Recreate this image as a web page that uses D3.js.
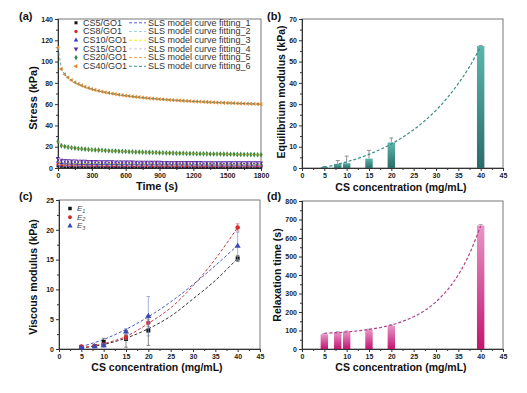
<!DOCTYPE html>
<html><head><meta charset="utf-8">
<script src="https://cdn.jsdelivr.net/npm/d3@7"></script>
<style>body{margin:0;background:#fff}svg{display:block;font-family:"Liberation Sans",Arial,sans-serif}</style>
</head><body><svg id="chart" width="527" height="393"></svg>
<script>
// ---------- (a) stress relaxation data ----------
const timeS=[0,30,60,90,120,150,180,210,240,270,300,330,360,390,420,450,480,510,540,570,600,630,660,690,720,750,780,810,840,870,900,930,960,990,1020,1050,1080,1110,1140,1170,1200,1230,1260,1290,1320,1350,1380,1410,1440,1470,1500,1530,1560,1590,1620,1650,1680,1710,1740,1770,1800];
const cs5=[1.9,1.5,1.4,1.35,1.3,1.28,1.26,1.24,1.22,1.2,1.19,1.18,1.17,1.16,1.15,1.14,1.13,1.12,1.11,1.1,1.1,1.09,1.09,1.08,1.08,1.07,1.07,1.06,1.06,1.05,1.05,1.04,1.04,1.03,1.03,1.02,1.02,1.01,1.01,1.0,1.0,1.0,0.99,0.99,0.98,0.98,0.97,0.97,0.96,0.96,0.95,0.95,0.94,0.94,0.93,0.93,0.92,0.92,0.91,0.91,0.9];
const cs8=[3.6,2.9,2.8,2.7,2.65,2.6,2.55,2.5,2.48,2.46,2.44,2.42,2.4,2.39,2.38,2.37,2.36,2.35,2.34,2.33,2.32,2.31,2.3,2.29,2.28,2.27,2.26,2.25,2.24,2.23,2.22,2.21,2.2,2.2,2.19,2.19,2.18,2.18,2.17,2.17,2.16,2.16,2.15,2.15,2.14,2.14,2.13,2.13,2.12,2.12,2.11,2.11,2.1,2.1,2.09,2.09,2.08,2.08,2.07,2.07,2.06];
const cs10=[6.0,4.9,4.7,4.6,4.5,4.4,4.3,4.25,4.2,4.15,4.1,4.05,4.0,3.98,3.96,3.94,3.92,3.9,3.88,3.86,3.84,3.82,3.8,3.79,3.78,3.77,3.76,3.75,3.74,3.73,3.72,3.71,3.7,3.69,3.68,3.67,3.66,3.65,3.64,3.63,3.62,3.61,3.6,3.59,3.58,3.57,3.56,3.55,3.54,3.53,3.52,3.51,3.5,3.49,3.48,3.47,3.46,3.45,3.44,3.42,3.4];
const cs15=[9.0,7.6,7.3,7.1,6.9,6.8,6.7,6.6,6.5,6.4,6.3,6.25,6.2,6.15,6.1,6.05,6.0,5.96,5.92,5.88,5.84,5.8,5.77,5.74,5.71,5.68,5.65,5.62,5.59,5.56,5.54,5.52,5.5,5.48,5.46,5.44,5.42,5.4,5.38,5.36,5.34,5.32,5.3,5.28,5.26,5.24,5.22,5.2,5.19,5.18,5.17,5.16,5.15,5.14,5.13,5.12,5.11,5.1,5.08,5.06,5.0];
const cs20=[25,21,20.2,19.6,19.1,18.7,18.3,18.0,17.7,17.4,17.2,17.0,16.8,16.6,16.4,16.2,16.0,15.9,15.7,15.6,15.5,15.3,15.2,15.1,15.0,14.9,14.8,14.7,14.6,14.5,14.4,14.3,14.2,14.1,14.0,13.9,13.9,13.8,13.7,13.6,13.6,13.5,13.4,13.4,13.3,13.2,13.2,13.1,13.1,13.0,13.0,12.9,12.9,12.8,12.8,12.7,12.7,12.6,12.6,12.5,12.5];
const cs40=[113,93,88,85,82.5,80.5,79,77.5,76.3,75.2,74.2,73.3,72.5,71.8,71.1,70.5,69.9,69.4,68.9,68.4,68.0,67.6,67.2,66.8,66.5,66.1,65.8,65.5,65.2,65.0,64.7,64.5,64.2,64.0,63.8,63.6,63.4,63.2,63.0,62.8,62.6,62.5,62.3,62.1,62.0,61.8,61.7,61.5,61.4,61.3,61.1,61.0,60.9,60.8,60.6,60.5,60.4,60.3,60.2,60.1,60.0];
const seriesNames=["CS5/GO1","CS8/GO1","CS10/GO1","CS15/GO1","CS20/GO1","CS40/GO1"];
const fitNames=["SLS model curve fitting_1","SLS model curve fitting_2","SLS model curve fitting_3","SLS model curve fitting_4","SLS model curve fitting_5","SLS model curve fitting_6"];
const timeTicks=[0,300,600,900,1200,1500,1800];
const stressTicks=[0,20,40,60,80,100,120,140];

// ---------- (b)(c)(d) concentration data ----------
const concs=[5,8,10,15,20,40];
const eqMod=[0.5,1.9,2.3,4.4,12.0,57.3];
const eqErr=[0.2,1.6,3.3,3.9,2.1,0.2];
const fitX=[5,7.5,10,12.5,15,17.5,20,22.5,25,27.5,30,32.5,35,37.5,40];
const eqFit=[0.3,1.5,2.9,4.5,6.4,8.7,11.3,14.4,18.0,22.2,27.1,32.9,39.7,47.6,57.0];
const E1=[0.3,0.5,1.2,1.7,3.1,15.2];
const E1err=[0.2,0.2,0.6,1.4,2.5,0.5];
const E2=[0.4,0.5,0.7,2.0,4.4,20.4];
const E2err=[0.2,0.2,0.3,0.4,0.6,0.6];
const E3=[0.2,0.4,0.6,2.9,5.5,17.3];
const E3err=[0.1,0.2,0.3,0.5,3.3,2.3];
const fitXc=[5,10,15,20,25,30,35,40];
const E1fit=[0.17,0.76,1.83,3.4,5.5,8.4,11.5,15.2];
const E2fit=[0.19,0.9,2.1,4.3,6.9,10.6,15.1,20.4];
const E3fit=[0.4,1.6,3.3,5.4,7.9,10.8,14.0,17.4];
const relax=[80,91,95,104,125,668];
const relaxErr=[3,2,2,3,3,4];
const relaxFit=[85,88,92,98,106,116,130,149,174,208,255,318,401,515,665];
const concTicks=[0,5,10,15,20,25,30,35,40,45];
const eqTicks=[0,10,20,30,40,50,60,70];
const viscTicks=[0,5,10,15,20,25];
const relaxTicks=[0,100,200,300,400,500,600,700,800];

const svg=d3.select("#chart");
const defs=svg.append("defs");
function grad(id,top,bot){const g=defs.append("linearGradient").attr("id",id).attr("x1",0).attr("y1",0).attr("x2",0).attr("y2",1);
 g.append("stop").attr("offset","0%").attr("stop-color",top);g.append("stop").attr("offset","100%").attr("stop-color",bot);}
grad("teal","#5cb6ae","#2c6c68");
grad("mag","#e696c6","#c21672");

const fmt=d3.format("d");
const concMinor=[2.5,7.5,12.5,17.5,22.5,27.5,32.5,37.5,42.5];
function frame(box,x,y,xt,xminor,yt,yminor){
  const g=svg.append("g");
  g.append("rect").attr("x",box.x0).attr("y",box.y0).attr("width",box.x1-box.x0).attr("height",box.y1-box.y0)
    .attr("fill","none").attr("stroke","#777").attr("stroke-width",1);
  g.append("g").attr("transform",`translate(0,${box.y1})`).call(d3.axisBottom(x).tickValues(xminor).tickSize(2).tickFormat(()=>""));
  g.append("g").attr("transform",`translate(${box.x0},0)`).call(d3.axisLeft(y).tickValues(yminor).tickSize(2).tickFormat(()=>""));
  g.append("g").attr("transform",`translate(0,${box.y1})`).call(d3.axisBottom(x).tickValues(xt).tickSize(3).tickPadding(2).tickFormat(fmt));
  g.append("g").attr("transform",`translate(${box.x0},0)`).call(d3.axisLeft(y).tickValues(yt).tickSize(3).tickPadding(2).tickFormat(fmt));
  g.selectAll(".domain").attr("stroke","#333");
  g.selectAll(".tick line").attr("stroke","#333");
  g.selectAll("text").attr("font-size",7).attr("font-weight","bold").attr("fill","#222").attr("font-family",'"Liberation Sans",Arial,sans-serif');
  return g;
}
function label(txt,x,y){svg.append("text").attr("x",x).attr("y",y).attr("font-size",11).attr("font-weight","bold").attr("fill","#111").text(txt);}
function xtitle(txt,x,y,fs){svg.append("text").attr("x",x).attr("y",y).attr("text-anchor","middle").attr("font-size",fs).attr("font-weight","bold").attr("fill","#111").text(txt);}
function ytitle(txt,x,y,fs){svg.append("text").attr("transform",`translate(${x},${y}) rotate(-90)`).attr("text-anchor","middle").attr("font-size",fs).attr("font-weight","bold").attr("fill","#111").text(txt);}

// ===== (a) =====
{
const box={x0:58,x1:261,y0:19,y1:168};
const x=d3.scaleLinear().domain([0,1800]).range([box.x0,box.x1]);
const y=d3.scaleLinear().domain([0,140]).range([box.y1,box.y0]);
frame(box,x,y,timeTicks,[150,450,750,1050,1350,1650],stressTicks,[10,30,50,70,90,110,130]);
const data=[cs5,cs8,cs10,cs15,cs20,cs40];
const mcol=["#111","#d42a2a","#3a3ac8","#5a2aa0","#2e8a3a","#e8862a"];
const fcol=["#5a5ad8","#9ad6e2","#eeee10","#d4c4e6","#f0a040","#3a968e"];
const syms=[d3.symbolSquare,d3.symbolCircle,d3.symbolTriangle,d3.symbolTriangle,d3.symbolDiamond,d3.symbolTriangle];
const rots=[0,0,0,180,0,-90];
const line=d3.line().x((d,i)=>x(timeS[i])).y(d=>y(d));
data.forEach((s,k)=>{
  svg.append("g").selectAll("path").data(s).join("path")
    .attr("d",d3.symbol().type(syms[k]).size(k===4?9:8))
    .attr("transform",(d,i)=>`translate(${x(timeS[i])},${y(d)}) rotate(${rots[k]})`)
    .attr("fill",mcol[k]);
});
data.forEach((s,k)=>{
  svg.append("path").attr("d",line(s)).attr("fill","none").attr("stroke",fcol[k]).attr("stroke-width",1).attr("stroke-dasharray","3,2").attr("opacity",0.8);
});
// legend
seriesNames.forEach((n,k)=>{
  const yy=25.5+k*8.7;
  svg.append("path").attr("d",d3.symbol().type(syms[k]).size(9)).attr("transform",`translate(76,${yy-2.7}) rotate(${rots[k]})`).attr("fill",mcol[k]);
  svg.append("text").attr("x",83).attr("y",yy).attr("font-size",9).attr("fill","#333").text(n);
  svg.append("line").attr("x1",129).attr("x2",146).attr("y1",yy-2.7).attr("y2",yy-2.7).attr("stroke",fcol[k]).attr("stroke-width",1).attr("stroke-dasharray","3,2");
  svg.append("text").attr("x",148).attr("y",yy).attr("font-size",9).attr("fill","#333").text(fitNames[k]);
});
label("(a)",19,20);
xtitle("Time (s)",157,190,11);
ytitle("Stress (kPa)",37,98,11);
}

// ===== (b) =====
{
const box={x0:302,x1:503,y0:19,y1:168};
const x=d3.scaleLinear().domain([0,45]).range([box.x0,box.x1]);
const y=d3.scaleLinear().domain([0,70]).range([box.y1,box.y0]);
frame(box,x,y,concTicks,concMinor,eqTicks,[5,15,25,35,45,55,65]);
const bw=7.4;
concs.forEach((c,i)=>{
  svg.append("line").attr("x1",x(c)).attr("x2",x(c)).attr("y1",y(eqMod[i])).attr("y2",y(eqMod[i]+eqErr[i])).attr("stroke","#777").attr("stroke-width",0.8);
  svg.append("line").attr("x1",x(c)-2).attr("x2",x(c)+2).attr("y1",y(eqMod[i]+eqErr[i])).attr("y2",y(eqMod[i]+eqErr[i])).attr("stroke","#777").attr("stroke-width",0.8);
  svg.append("rect").attr("x",x(c)-bw/2).attr("y",y(eqMod[i])).attr("width",bw).attr("height",y(0)-y(eqMod[i])).attr("fill","url(#teal)");
});
svg.append("path").attr("d",d3.line().curve(d3.curveCatmullRom).x((d,i)=>x(fitX[i])).y(d=>y(d))(eqFit))
  .attr("fill","none").attr("stroke","#3a8c86").attr("stroke-width",1.2).attr("stroke-dasharray","3,2");
label("(b)",267,20);
xtitle("CS concentration (mg/mL)",401,191,10.5);
ytitle("Equilibrium modulus (kPa)",285,92,10.5);
}

// ===== (c) =====
{
const box={x0:59,x1:260,y0:200,y1:349};
const x=d3.scaleLinear().domain([0,45]).range([box.x0,box.x1]);
const y=d3.scaleLinear().domain([0,25]).range([box.y1,box.y0]);
frame(box,x,y,concTicks,concMinor,viscTicks,[2.5,7.5,12.5,17.5,22.5]);
const sets=[[E1,E1err,E1fit,"#111","#333",d3.symbolSquare],[E2,E2err,E2fit,"#d42a2a","#c83a3a",d3.symbolCircle],[E3,E3err,E3fit,"#3a48b8","#4a5ab8",d3.symbolTriangle]];
const ebCol=["#555","#c06060","#8090c8"];
sets.forEach(([v,e,f,c,lc,s],k)=>{
  svg.append("path").attr("d",d3.line().curve(d3.curveCatmullRom).x((d,i)=>x(fitXc[i])).y(d=>y(d))(f))
    .attr("fill","none").attr("stroke",lc).attr("stroke-width",1).attr("stroke-dasharray","3,2");
});
sets.forEach(([v,e,f,c,lc,s],k)=>{
  concs.forEach((cc,i)=>{
    svg.append("line").attr("x1",x(cc)).attr("x2",x(cc)).attr("y1",y(v[i]-e[i])).attr("y2",y(v[i]+e[i])).attr("stroke",ebCol[k]).attr("stroke-width",0.7);
    [v[i]-e[i],v[i]+e[i]].forEach(t=>svg.append("line").attr("x1",x(cc)-1.8).attr("x2",x(cc)+1.8).attr("y1",y(t)).attr("y2",y(t)).attr("stroke",ebCol[k]).attr("stroke-width",0.7));
  });
  svg.append("g").selectAll("path").data(v).join("path").attr("d",d3.symbol().type(s).size(16))
    .attr("transform",(d,i)=>`translate(${x(concs[i])},${y(d)})`).attr("fill",c);
});
["1","2","3"].forEach((sub,k)=>{
  const yy=211+k*8.7;
  svg.append("path").attr("d",d3.symbol().type(sets[k][5]).size(12)).attr("transform",`translate(70,${yy-2.5})`).attr("fill",sets[k][3]);
  const t=svg.append("text").attr("x",77).attr("y",yy).attr("font-size",8).attr("fill","#444").attr("font-style","italic");
  t.append("tspan").text("E");
  t.append("tspan").attr("font-size",5.5).attr("dy",1.5).text(sub);
});
label("(c)",19,200);
xtitle("CS concentration (mg/mL)",157,371,10.5);
ytitle("Viscous modulus (kPa)",37,277,10.5);
}

// ===== (d) =====
{
const box={x0:302,x1:503,y0:201,y1:349};
const x=d3.scaleLinear().domain([0,45]).range([box.x0,box.x1]);
const y=d3.scaleLinear().domain([0,800]).range([box.y1,box.y0]);
frame(box,x,y,concTicks,concMinor,relaxTicks,[50,150,250,350,450,550,650,750]);
const bw=7.4;
concs.forEach((c,i)=>{
  svg.append("line").attr("x1",x(c)).attr("x2",x(c)).attr("y1",y(relax[i])).attr("y2",y(relax[i]+relaxErr[i])).attr("stroke","#888").attr("stroke-width",0.8);
  svg.append("line").attr("x1",x(c)-2).attr("x2",x(c)+2).attr("y1",y(relax[i]+relaxErr[i])).attr("y2",y(relax[i]+relaxErr[i])).attr("stroke","#888").attr("stroke-width",0.8);
  svg.append("rect").attr("x",x(c)-bw/2).attr("y",y(relax[i])).attr("width",bw).attr("height",y(0)-y(relax[i])).attr("fill","url(#mag)");
});
svg.append("path").attr("d",d3.line().curve(d3.curveCatmullRom).x((d,i)=>x(fitX[i])).y(d=>y(d))(relaxFit))
  .attr("fill","none").attr("stroke","#b0408a").attr("stroke-width",1.2).attr("stroke-dasharray","3,2");
label("(d)",267,200);
xtitle("CS concentration (mg/mL)",401,371,10.5);
ytitle("Relaxation time (s)",281,275,10.5);
}
</script></body></html>
